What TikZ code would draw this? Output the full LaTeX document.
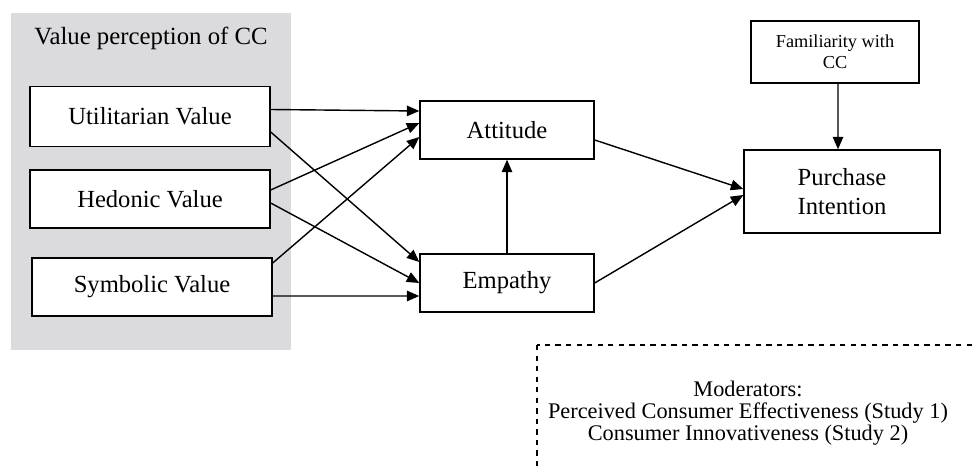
\documentclass[tikz,border=0pt]{standalone}
\usepackage{fontspec}
\setmainfont{Liberation Serif}
\usetikzlibrary{arrows.meta,positioning}
\definecolor{panelgray}{RGB}{219,219,221}

\begin{document}
\begin{tikzpicture}[x=0.02cm,y=-0.02cm]
	\tikzstyle{value box}=[draw,thick,fill=white,minimum width=4.8cm,minimum height=1.2cm,font=\fontsize{14}{16}\selectfont]
	\tikzstyle{mid box}=[draw,thick,fill=white,minimum width=3.48cm,minimum height=1.16cm,font=\fontsize{14}{16}\selectfont]
	\tikzstyle{path arrow}=[thick,-{Triangle[length=2.5mm,width=2.1mm]}]

	% Fix the frame.
	\useasboundingbox (0,0) rectangle (976,466);
	\fill [panelgray] (11,13) rectangle (291,350);
	\node (panel) at (151,38) {\fontsize{14.1}{16}\selectfont Value perception of CC};

	% Value boxes.
	\node [value box] (util) at (150,116.5) {Utilitarian Value};
	\node [value box,minimum height=1.16cm] (hed) at (150,199) {Hedonic Value};
	\node [value box,minimum height=1.16cm] (sym) at (152,287) {Symbolic Value};

	% Mediators and outcome.
	\node [mid box] (att) at (507,130) {Attitude};
	\node [mid box] (emp) at (507,283) {Empathy};
	\node [draw,thick,minimum width=3.92cm,minimum height=1.66cm,align=center,
		font=\fontsize{14}{16.5}\selectfont] (pi) at (842,191.5) {Purchase\\Intention};
	\node [draw,thick,minimum width=3.36cm,minimum height=1.24cm,align=center,
		font=\fontsize{10.4}{12}\selectfont] (fam) at (835,52) {Familiarity with\\CC};

	% Paths into attitude.
	\draw [path arrow] ([yshift=0.14cm]util.east) -- ([yshift=0.38cm]att.west);
	\draw [path arrow] ([yshift=0.18cm]hed.east) -- ([yshift=0.14cm]att.west);
	\draw [path arrow] ([yshift=0.48cm]sym.east) -- ([yshift=-0.14cm]att.west);
	% Paths into empathy.
	\draw [path arrow] ([yshift=-0.31cm]util.east) -- ([yshift=0.42cm]emp.west);
	\draw [path arrow] ([yshift=-0.08cm]hed.east) -- (emp.west);
	\draw [path arrow] ([yshift=-0.18cm]sym.east) -- ([yshift=-0.26cm]emp.west);

	\draw [path arrow] (emp.north) -- (att.south);
	\draw [path arrow] ([yshift=-0.2cm]att.east) -- ([yshift=0.05cm]pi.west);
	\draw [path arrow] (emp.east) -- ([yshift=-0.07cm]pi.west);
	\draw [path arrow] ([xshift=0.06cm]fam.south) -- ([xshift=-0.08cm]pi.north);

	% Moderators, cut off by the frame.
	\draw [thick,dashed] (537,345) rectangle (1000,500);
	\node [align=center,font=\fontsize{12.7}{12.5}\selectfont] (mod) at (748,413)
		{Moderators:\\Perceived Consumer Effectiveness (Study 1)\\Consumer Innovativeness (Study 2)};
\end{tikzpicture}
\end{document}
